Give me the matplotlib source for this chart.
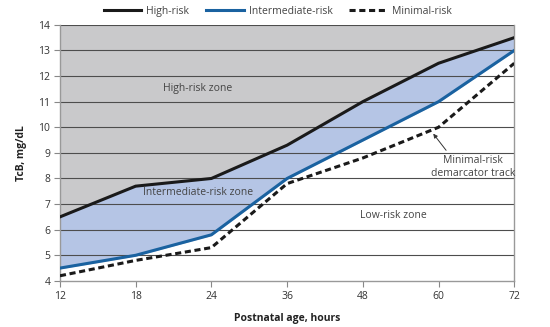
import numpy as np
import matplotlib.pyplot as plt

# postnatal age (hours) and TcB tracks (mg/dL)
ages = [12, 18, 24, 36, 48, 60, 72]
high_risk = [6.5, 7.7, 8.0, 9.3, 11.0, 12.5, 13.5]
intermediate_risk = [4.5, 5.0, 5.8, 8.0, 9.5, 11.0, 13.0]
minimal_risk = [4.2, 4.8, 5.3, 7.8, 8.8, 10.0, 12.5]

plt.rcParams['font.family'] = ['Open Sans', 'DejaVu Sans']

fig = plt.figure(figsize=(5.5, 3.27), dpi=100)
ax = fig.add_axes([0.109, 0.141, 0.826, 0.783])

x = np.arange(len(ages))

# zones
ax.fill_between(x, high_risk, 14, color='#c9c9cb', zorder=1)
ax.fill_between(x, intermediate_risk, high_risk, color='#b5c5e5', zorder=1)

for v in range(5, 15):
    ax.axhline(v, color='#4d4d4d', lw=0.8, zorder=2)

ax.plot(x, high_risk, color='#1a1a1a', lw=2.2, label='High-risk', zorder=4)
ax.plot(x, intermediate_risk, color='#1a62a0', lw=2.2, label='Intermediate-risk', zorder=4)
ax.plot(x, minimal_risk, color='#1a1a1a', lw=2.2, ls=(0, (2, 1.2)), label='Minimal-risk', zorder=4)

ax.set_xlim(0, len(ages) - 1)
ax.set_ylim(4, 14)
ax.set_xticks(x)
ax.set_xticklabels([str(a) for a in ages])
ax.set_yticks(range(4, 15))
ax.tick_params(labelsize=7.5, colors='#333333', length=4, width=0.8, pad=3)
ax.tick_params(axis='both', color='#888888')

for s in ['left', 'right', 'bottom']:
    ax.spines[s].set_color('#999999')
    ax.spines[s].set_linewidth(1.0)
ax.spines['top'].set_visible(False)

ax.set_xlabel('Postnatal age, hours', fontsize=7.5, fontweight='bold', color='#222222', labelpad=8)
ax.set_ylabel('TcB, mg/dL', fontsize=7.5, fontweight='bold', color='#222222', labelpad=8)

ax.text(1.82, 11.5, 'High-risk zone', fontsize=7.5, color='#444444', ha='center', va='center', zorder=5)
ax.text(1.82, 7.44, 'Intermediate-risk zone', fontsize=7.5, color='#444444', ha='center', va='center', zorder=5)
ax.text(4.4, 6.54, 'Low-risk zone', fontsize=7.5, color='#444444', ha='center', va='center', zorder=5)
ax.text(5.46, 8.45, 'Minimal-risk\ndemarcator track', fontsize=7.5, color='#444444',
        ha='center', va='center', zorder=5)
ax.annotate('', xy=(4.93, 9.75), xytext=(5.1, 9.1),
            arrowprops=dict(arrowstyle='-|>', color='#333333', lw=0.7,
                            shrinkA=0, shrinkB=0, mutation_scale=6), zorder=5)

fig.legend(loc='upper center', bbox_to_anchor=(0.505, 1.01), ncol=3, frameon=False,
           fontsize=7.5, handlelength=3.6, handletextpad=0.5, columnspacing=1.6,
           labelcolor='#444444')

fig.savefig('out.png', dpi=100)
